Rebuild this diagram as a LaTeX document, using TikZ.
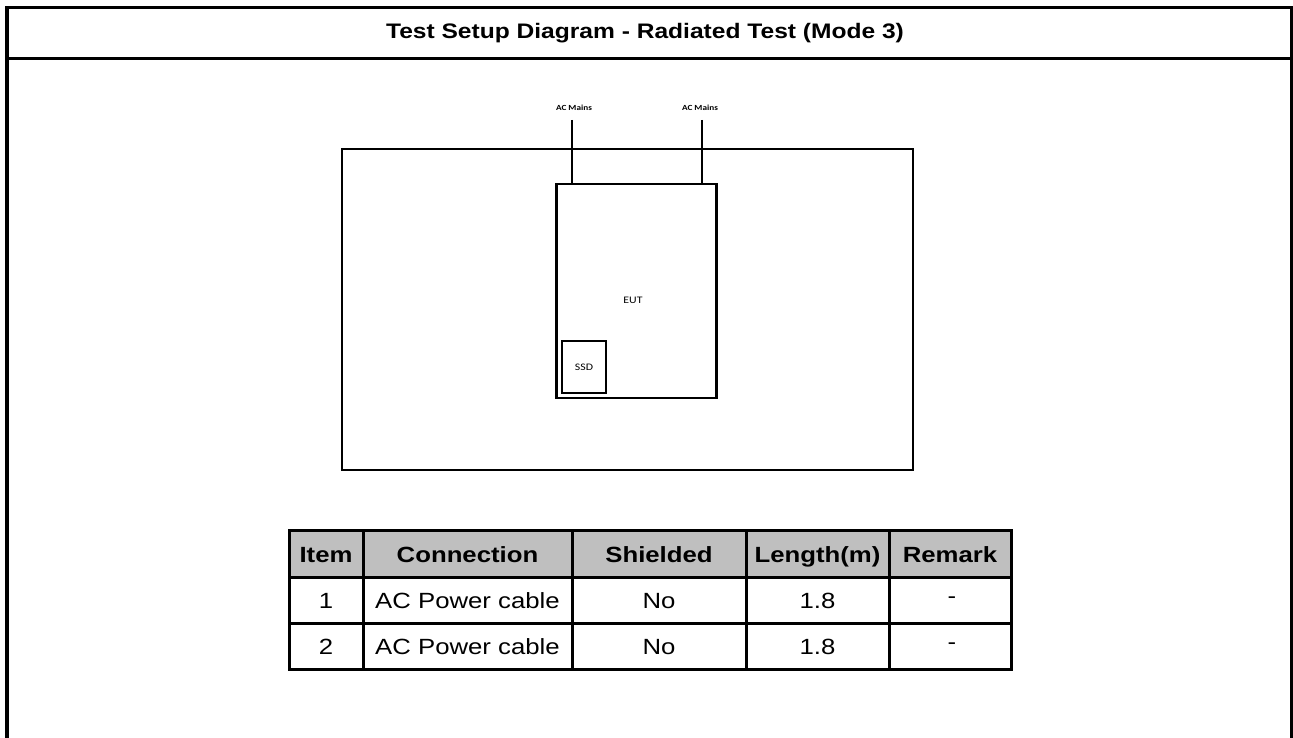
\documentclass[tikz,border=0pt]{standalone}
\usepackage{fontspec}
\setmainfont{Liberation Sans}[FakeStretch=1.17]
\newfontfamily\calib{Carlito}[FakeStretch=1.18]
\begin{document}
\begin{tikzpicture}[x=1pt,y=-1pt,
  frameline/.style={line width=3.5pt},
  boxline/.style={draw,line width=2.8pt},
  tabline/.style={line width=3pt},
  smalltxt/.style={font=\calib\fontsize{10}{11}\selectfont},
  mainslbl/.style={font=\calib\bfseries\fontsize{7.8}{9}\selectfont},
  celltxt/.style={font=\fontsize{22}{24}\selectfont,anchor=base},
  headtxt/.style={font=\bfseries\fontsize{22}{24}\selectfont,anchor=base},
  dashtxt/.style={font=\fontsize{22}{24}\selectfont}]
\useasboundingbox (0,0) rectangle (1293,738);
% outer frame
\draw[frameline] (7,738) -- (7,7.5) -- (1291.5,7.5) -- (1291.5,738);
\draw[frameline] (5,58.5) -- (1293,58.5);
\node[font=\bfseries\fontsize{21}{23}\selectfont] (title) at (645,33) {Test Setup Diagram - Radiated Test (Mode 3)};
% setup
\node[boxline,minimum width=571pt,minimum height=321pt,inner sep=0pt] (room) at (627.5,309.5) {};
\node[boxline,minimum width=160pt,minimum height=214pt,inner sep=0pt] (eut) at (636.5,291) {};
\node[smalltxt] (euttxt) at (633,300) {EUT};
\node[boxline,minimum width=44pt,minimum height=52pt,inner sep=0pt,smalltxt] (ssd) at (584,367) {SSD};
\node[mainslbl] (acl) at (574,108) {AC Mains};
\node[mainslbl] (acr) at (700,108) {AC Mains};
\coordinate (acltop) at (572,120);
\coordinate (acrtop) at (702,120);
\draw[line width=2.8pt] (acltop) -- (acltop |- eut.north);
\draw[line width=2.8pt] (acrtop) -- (acrtop |- eut.north);
% table
\fill[black!25] (289,530) rectangle (1011,577);
\draw[tabline] (289,530) rectangle (1011,669);
\foreach \yy in {577,623} \draw[tabline] (289,\yy) -- (1011,\yy);
\foreach \xx in {363,572,746,889} \draw[tabline] (\xx,530) -- (\xx,669);
\node[headtxt] (h1) at (326,562) {Item};
\node[headtxt] (h2) at (467.5,562) {Connection};
\node[headtxt] (h3) at (659,562) {Shielded};
\node[headtxt] (h4) at (817.5,562) {Length(m)};
\node[headtxt] (h5) at (950,562) {Remark};
\node[celltxt] (a1) at (326,608) {1};
\node[celltxt] (b1) at (467.5,608) {AC Power cable};
\node[celltxt] (c1) at (659,608) {No};
\node[celltxt] (d1) at (817.5,608) {1.8};
\node[dashtxt] (e1) at (952,600.5) {-};
\node[celltxt] (a2) at (326,654) {2};
\node[celltxt] (b2) at (467.5,654) {AC Power cable};
\node[celltxt] (c2) at (659,654) {No};
\node[celltxt] (d2) at (817.5,654) {1.8};
\node[dashtxt] (e2) at (952,646) {-};
\end{tikzpicture}
\end{document}
